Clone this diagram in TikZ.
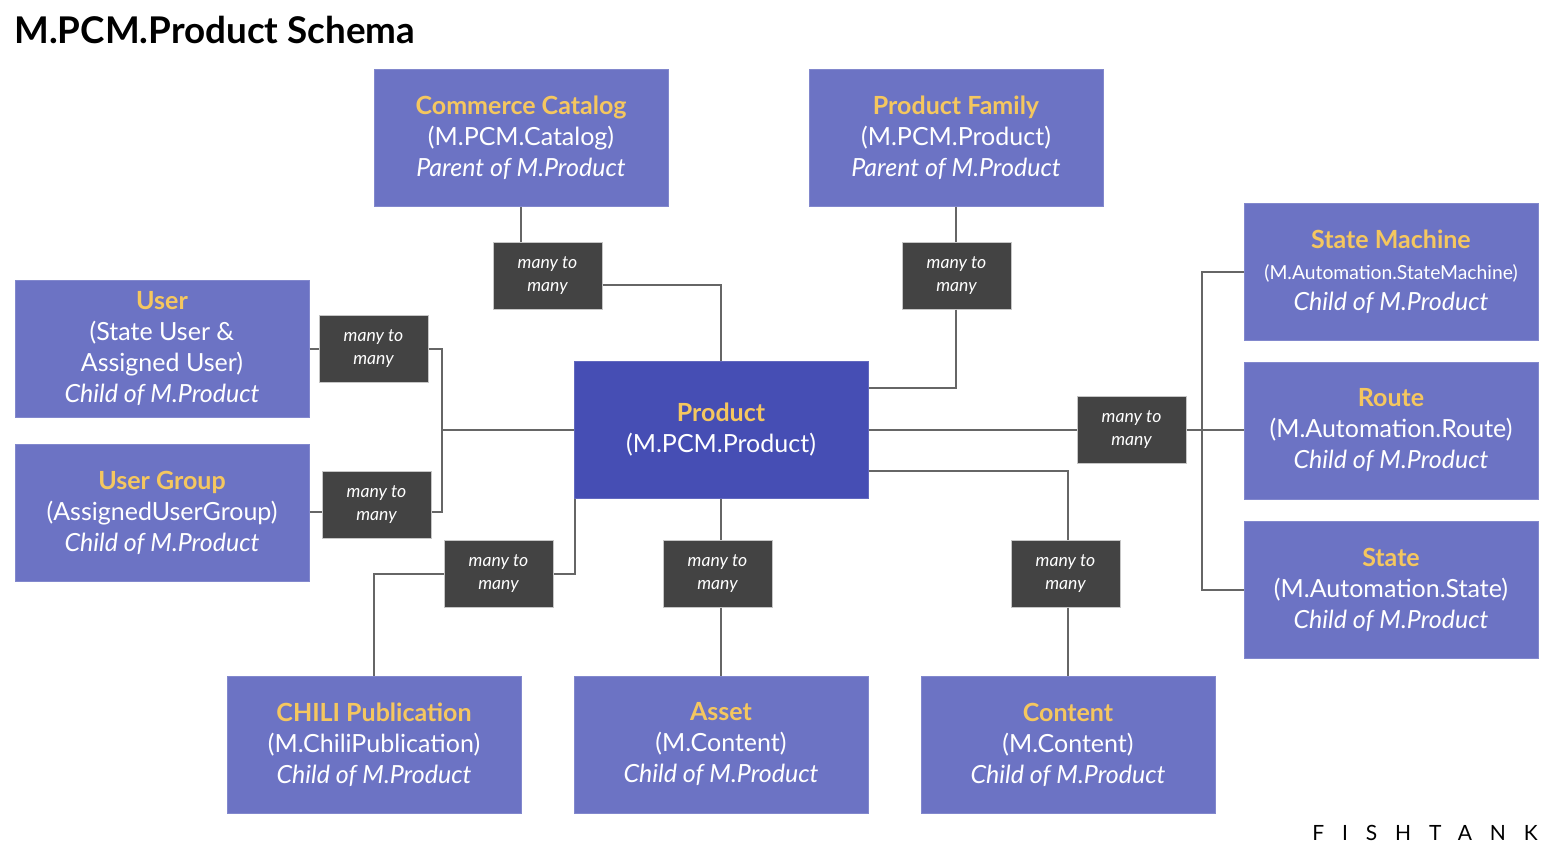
\documentclass[tikz,border=0pt]{standalone}
\usepackage{fontspec}
\setmainfont{Lato}
\definecolor{boxc}{HTML}{6C73C4}
\definecolor{prodc}{HTML}{464EB4}
\definecolor{relc}{HTML}{434343}
\definecolor{ttlc}{HTML}{F5C75F}
\definecolor{linec}{HTML}{666666}
\newcommand\hd[1]{{\bfseries\color{ttlc}#1}}
\begin{document}
\begin{tikzpicture}[x=0.5pt,y=-0.5pt,
  entity/.style={fill=boxc, draw=boxc!85!white, line width=0.5pt, text=white, minimum width=147pt, minimum height=68.5pt, inner sep=0pt, align=center, font=\fontsize{12.5}{15.5}\selectfont},
  mainent/.style={entity, fill=prodc, draw=prodc!85!white},
  rel/.style={fill=relc, draw=gray!45, line width=0.5pt, text=white, minimum width=54.5pt, minimum height=33.5pt, inner sep=0pt, align=center, font=\fontsize{8.8}{11.5}\selectfont\itshape},
  link/.style={draw=linec, line width=1pt}]
\useasboundingbox (0,0) rectangle (1558,864);
\fill[white] (0,0) rectangle (1558,864);

\node[anchor=west, inner sep=0pt, font=\fontsize{18.4}{21}\selectfont\bfseries] (title) at (14,30) {M.PCM.Product Schema};

% entities
\node[entity] (cat) at (521,138) {\hd{Commerce Catalog}\\(M.PCM.Catalog)\\\textit{Parent of M.Product}};
\node[entity] (fam) at (956,138) {\hd{Product Family}\\(M.PCM.Product)\\\textit{Parent of M.Product}};
\node[entity] (user) at (162,348.5) {\hd{User}\\(State User \&\\Assigned User)\\\textit{Child of M.Product}};
\node[entity] (ug) at (162,512.5) {\hd{User Group}\\(AssignedUserGroup)\\\textit{Child of M.Product}};
\node[mainent] (prod) at (721,429.5) {\hd{Product}\\(M.PCM.Product)};
\node[entity] (sm) at (1391,271.5) {\hd{State Machine}\\{\fontsize{9.65}{15.5}\selectfont(M.Automation.StateMachine)}\\\textit{Child of M.Product}};
\node[entity] (route) at (1391,430.5) {\hd{Route}\\(M.Automation.Route)\\\textit{Child of M.Product}};
\node[entity] (st) at (1391,589.5) {\hd{State}\\(M.Automation.State)\\\textit{Child of M.Product}};
\node[entity] (chili) at (374,744.5) {\hd{CHILI Publication}\\(M.ChiliPublication)\\\textit{Child of M.Product}};
\node[entity] (asset) at (721,744.5) {\hd{Asset}\\(M.Content)\\\textit{Child of M.Product}};
\node[entity] (cont) at (1068,744.5) {\hd{Content}\\(M.Content)\\\textit{Child of M.Product}};

% relation labels
\node[rel] (m1) at (547.5,275.5) {many to\\many};
\node[rel] (m2) at (956.5,275.5) {many to\\many};
\node[rel] (m3) at (373.5,348.5) {many to\\many};
\node[rel] (m4) at (376.5,504.5) {many to\\many};
\node[rel] (m5) at (498.5,573.5) {many to\\many};
\node[rel] (m6) at (717.5,573.5) {many to\\many};
\node[rel] (m7) at (1065.5,573.5) {many to\\many};
\node[rel] (m8) at (1131.5,430) {many to\\many};

\coordinate (j1) at (442,430);
\coordinate (j2) at (1201.5,430);

% connectors
\draw[link] (cat.south) -- (cat.south |- m1.north);
\draw[link] ([yshift=-4.5pt]m1.east) -| (prod.north);
\draw[link] (fam.south) -- (fam.south |- m2.north);
\draw[link] (fam.south |- m2.south) |- ([yshift=21pt]prod.east);
\draw[link] (user.east |- m3.west) -- (m3.west);
\draw[link] (m3.east) -| (j1);
\draw[link] (ug.east |- 0,512) -- (m4.west |- 0,512);
\draw[link] (m4.east |- 0,512) -| (j1);
\draw[link] (j1) -- (prod.west |- j1);
\draw[link] ([xshift=0.5pt]prod.south west) |- (m5.east);
\draw[link] (m5.west) -| (chili.north);
\draw[link] (prod.south) -- (prod.south |- m6.north);
\draw[link] (prod.south |- m6.south) -- (asset.north);
\draw[link] (prod.east |- 0,471) -| (cont.north |- m7.north);
\draw[link] (cont.north |- m7.south) -- (cont.north);
\draw[link] (prod.east |- m8.west) -- (m8.west);
\draw[link] (m8.east) -- (route.west |- m8.east);
\draw[link] (sm.west |- 0,271.5) -- (j2 |- 0,271.5) -- (j2 |- 0,589.5) -- (st.west |- 0,589.5);

\node[inner sep=0pt, font=\fontsize{10.5}{12}\selectfont\addfontfeature{LetterSpace=85}] (logo) at (1425,833) {FISHTANK};
\end{tikzpicture}
\end{document}
